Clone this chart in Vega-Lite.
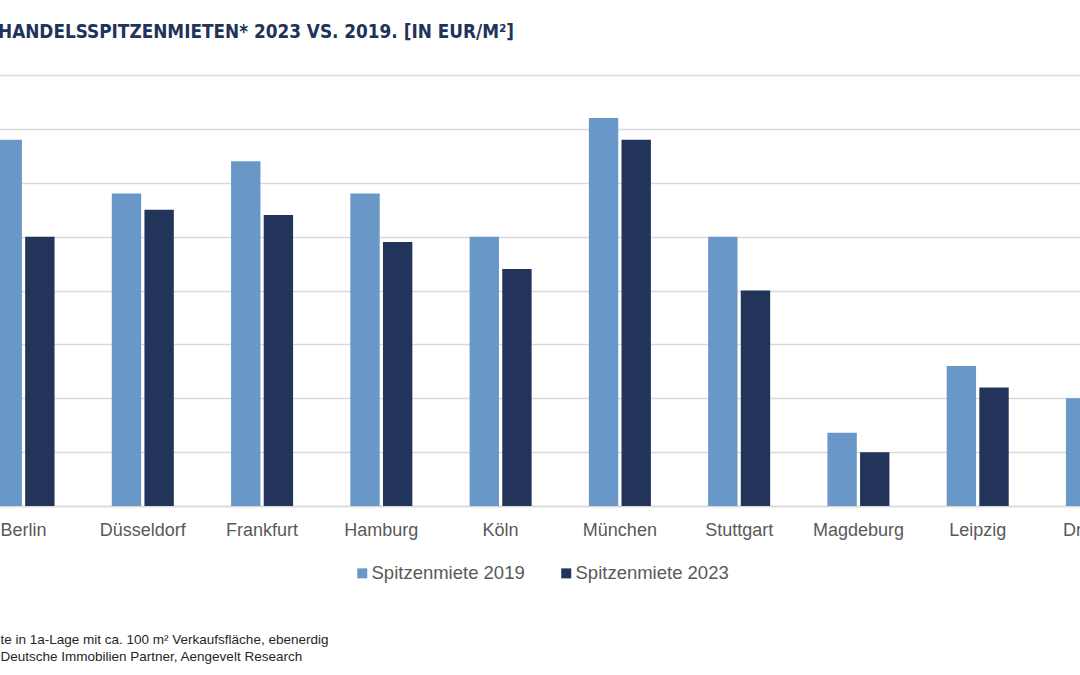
{
  "$schema": "https://vega.github.io/schema/vega-lite/v6.json",
  "width": 1080,
  "height": 431,
  "autosize": {"type": "none"},
  "padding": {"left": 0, "top": 75, "right": 0, "bottom": 169},
  "background": "white",
  "title": {
    "text": "HANDELSSPITZENMIETEN* 2023 VS. 2019. [IN EUR/M²]",
    "anchor": "start",
    "frame": "group",
    "offset": 33,
    "dx": -2,
    "font": "Liberation Sans Narrow, Arial Narrow, DejaVu Sans Condensed, Liberation Sans",
    "fontSize": 18.8,
    "fontWeight": "bold",
    "color": "#22335a"
  },
  "data": {
    "values": [
      {"Stadt": "Berlin", "Serie": "Spitzenmiete 2019", "Miete": 340},
      {"Stadt": "Berlin", "Serie": "Spitzenmiete 2023", "Miete": 250},
      {"Stadt": "Düsseldorf", "Serie": "Spitzenmiete 2019", "Miete": 290},
      {"Stadt": "Düsseldorf", "Serie": "Spitzenmiete 2023", "Miete": 275},
      {"Stadt": "Frankfurt", "Serie": "Spitzenmiete 2019", "Miete": 320},
      {"Stadt": "Frankfurt", "Serie": "Spitzenmiete 2023", "Miete": 270},
      {"Stadt": "Hamburg", "Serie": "Spitzenmiete 2019", "Miete": 290},
      {"Stadt": "Hamburg", "Serie": "Spitzenmiete 2023", "Miete": 245},
      {"Stadt": "Köln", "Serie": "Spitzenmiete 2019", "Miete": 250},
      {"Stadt": "Köln", "Serie": "Spitzenmiete 2023", "Miete": 220},
      {"Stadt": "München", "Serie": "Spitzenmiete 2019", "Miete": 360},
      {"Stadt": "München", "Serie": "Spitzenmiete 2023", "Miete": 340},
      {"Stadt": "Stuttgart", "Serie": "Spitzenmiete 2019", "Miete": 250},
      {"Stadt": "Stuttgart", "Serie": "Spitzenmiete 2023", "Miete": 200},
      {"Stadt": "Magdeburg", "Serie": "Spitzenmiete 2019", "Miete": 68},
      {"Stadt": "Magdeburg", "Serie": "Spitzenmiete 2023", "Miete": 50},
      {"Stadt": "Leipzig", "Serie": "Spitzenmiete 2019", "Miete": 130},
      {"Stadt": "Leipzig", "Serie": "Spitzenmiete 2023", "Miete": 110},
      {"Stadt": "Dresden", "Serie": "Spitzenmiete 2019", "Miete": 100},
      {"Stadt": "Dresden", "Serie": "Spitzenmiete 2023", "Miete": 90}
    ]
  },
  "mark": {"type": "bar", "clip": true},
  "encoding": {
    "x": {
      "field": "Stadt",
      "type": "nominal",
      "sort": null,
      "scale": {"range": [-36.1, 1156.6], "paddingInner": 0.48, "paddingOuter": 0.24},
      "axis": {
        "labelAngle": 0,
        "labelFont": "Liberation Sans",
        "labelFontSize": 18,
        "labelColor": "#595959",
        "labelPadding": 15,
        "labelOverlap": false,
        "ticks": false,
        "domain": true,
        "domainColor": "#d9d9d9",
        "domainWidth": 1.5,
        "title": ["te in 1a-Lage mit ca. 100 m² Verkaufsfläche, ebenerdig", "Deutsche Immobilien Partner, Aengevelt Research"],
        "titleFont": "Liberation Sans",
        "titleFontSize": 13.5,
        "titleFontWeight": "normal",
        "titleColor": "#262626",
        "titleAnchor": "start",
        "titleAlign": "left",
        "titleBaseline": "alphabetic",
        "titleLineHeight": 17,
        "titleX": 0,
        "titleY": 137
      }
    },
    "xOffset": {
      "field": "Serie",
      "type": "nominal",
      "scale": {"paddingInner": 0.1, "paddingOuter": 0}
    },
    "y": {
      "field": "Miete",
      "type": "quantitative",
      "scale": {"domain": [0, 400]},
      "axis": {
        "values": [0, 50, 100, 150, 200, 250, 300, 350, 400],
        "labels": false,
        "ticks": false,
        "domain": false,
        "title": null,
        "grid": true,
        "gridColor": "#d9d9d9",
        "gridWidth": 1.5
      }
    },
    "color": {
      "field": "Serie",
      "type": "nominal",
      "scale": {"domain": ["Spitzenmiete 2019", "Spitzenmiete 2023"], "range": ["#6897c8", "#22345a"]},
      "legend": {
        "orient": "none",
        "legendX": 353,
        "legendY": 489,
        "direction": "horizontal",
        "title": null,
        "symbolType": "square",
        "symbolSize": 100,
        "symbolStrokeWidth": 0,
        "labelFont": "Liberation Sans",
        "labelFontSize": 18.5,
        "labelColor": "#595959",
        "labelOffset": 0,
        "columnPadding": 32
      }
    }
  },
  "config": {"view": {"stroke": null}}
}
